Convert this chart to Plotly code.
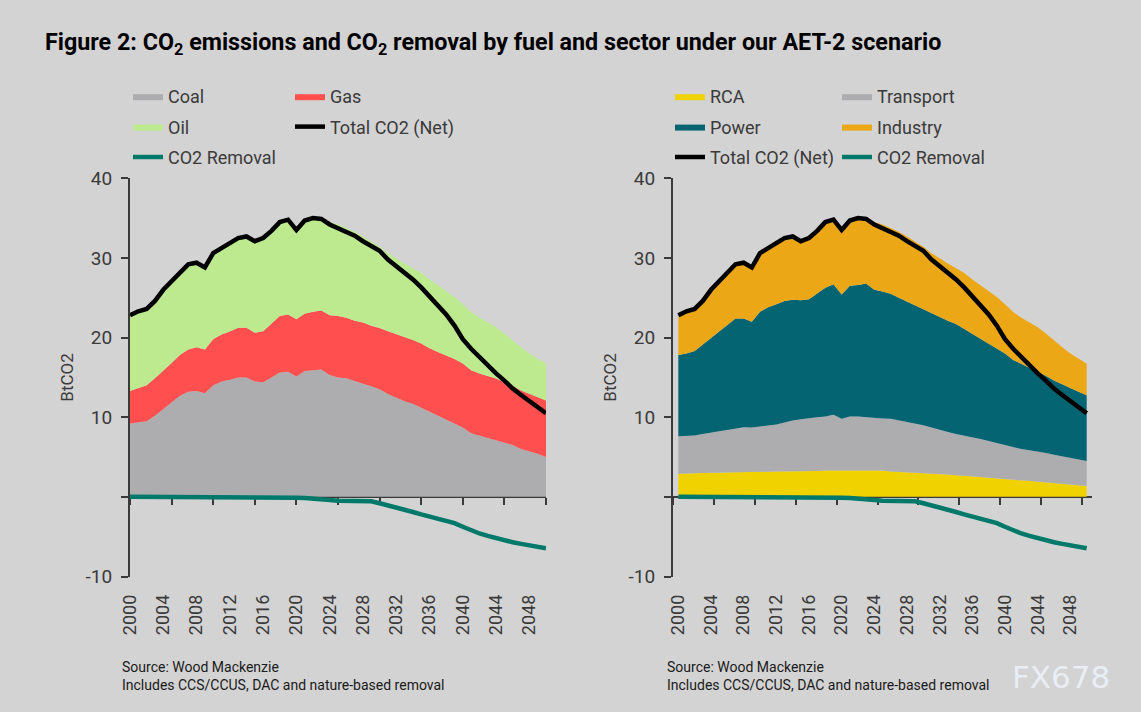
import plotly.graph_objects as go

# 年份 2000-2050
years = list(range(2000, 2051))

# 左图：按燃料 (BtCO2)
coal = [9.2, 9.35, 9.5, 10.2, 11.0, 11.8, 12.7, 13.2, 13.3, 13.0,
        14.0, 14.5, 14.7, 15.0, 15.0, 14.5, 14.4, 15.0, 15.6, 15.7,
        15.1, 15.8, 15.9, 16.0, 15.3, 15.0, 14.9, 14.5, 14.2, 13.9,
        13.5, 12.9, 12.4, 12.0, 11.7, 11.2, 10.75, 10.2, 9.7, 9.2,
        8.7, 8.0, 7.7, 7.4, 7.1, 6.8, 6.5, 6.0, 5.7, 5.4, 5.0]
gas = [4.1, 4.35, 4.5, 4.7, 4.8, 5.0, 5.1, 5.3, 5.5, 5.5,
       5.8, 5.9, 6.05, 6.25, 6.25, 6.1, 6.4, 6.8, 7.1, 7.2,
       7.2, 7.2, 7.35, 7.4, 7.5, 7.7, 7.6, 7.6, 7.7, 7.6,
       7.7, 7.9, 8.05, 8.1, 8.0, 8.05, 7.9, 8.0, 8.1, 8.1,
       8.05, 7.9, 7.8, 7.8, 7.75, 7.6, 7.45, 7.35, 7.2, 7.1, 7.1]
oil = [9.5, 9.6, 9.6, 9.7, 10.2, 10.3, 10.3, 10.7, 10.6, 10.3,
       10.8, 10.85, 11.25, 11.25, 11.45, 11.5, 11.7, 11.6, 11.8, 11.9,
       11.3, 11.8, 11.85, 11.7, 11.7, 11.5, 11.3, 11.2, 10.8, 10.6,
       10.2, 9.8, 9.45, 9.2, 9.0, 8.85, 8.65, 8.4, 8.1, 7.8,
       7.45, 7.3, 7.0, 6.7, 6.45, 6.1, 5.65, 5.45, 5.1, 4.9, 4.6]

# 右图：按部门 (BtCO2)
rca = [2.9, 2.9, 2.95, 3.0, 3.0, 3.05, 3.05, 3.1, 3.1, 3.1,
       3.15, 3.15, 3.2, 3.2, 3.2, 3.2, 3.2, 3.25, 3.3, 3.3,
       3.3, 3.35, 3.35, 3.35, 3.3, 3.3, 3.2, 3.15, 3.1, 3.05,
       3.0, 2.95, 2.9, 2.8, 2.7, 2.65, 2.6, 2.5, 2.4, 2.3,
       2.2, 2.15, 2.1, 2.0, 1.9, 1.85, 1.75, 1.65, 1.55, 1.45, 1.35]
transport = [4.7, 4.75, 4.75, 4.9, 5.1, 5.2, 5.35, 5.5, 5.65, 5.6,
             5.65, 5.8, 5.9, 6.15, 6.4, 6.55, 6.7, 6.75, 6.8, 7.0,
             6.5, 6.75, 6.75, 6.65, 6.6, 6.55, 6.6, 6.45, 6.3, 6.15,
             6.0, 5.75, 5.5, 5.35, 5.2, 5.05, 4.9, 4.75, 4.6, 4.45,
             4.3, 4.1, 3.9, 3.85, 3.8, 3.65, 3.55, 3.45, 3.35, 3.25, 3.15]
power = [10.2, 10.35, 10.6, 11.2, 11.9, 12.55, 13.1, 13.8, 13.65, 13.3,
         14.45, 14.85, 15.1, 15.25, 15.15, 14.95, 14.9, 15.5, 16.15, 16.4,
         15.6, 16.4, 16.5, 16.8, 16.1, 15.95, 15.7, 15.4, 15.1, 14.8,
         14.6, 14.3, 14.2, 13.95, 13.8, 13.4, 13.0, 12.65, 12.3, 11.95,
         11.5, 10.95, 10.7, 10.4, 10.1, 9.7, 9.3, 9.0, 8.7, 8.5, 8.25]
industry = [5.0, 5.3, 5.3, 5.5, 6.0, 6.3, 6.6, 6.8, 7.0, 6.8,
            7.35, 7.45, 7.8, 7.9, 7.95, 7.4, 7.7, 7.9, 8.25, 8.1,
            8.2, 8.3, 8.5, 8.3, 8.5, 8.4, 8.3, 8.3, 8.2, 8.1,
            7.8, 7.6, 7.3, 7.2, 7.0, 7.0, 6.8, 6.7, 6.6, 6.4,
            6.2, 6.0, 5.8, 5.65, 5.5, 5.3, 5.0, 4.7, 4.4, 4.2, 3.95]

# 两图共用：净排放与碳移除
total_net = [22.8, 23.3, 23.6, 24.6, 26.0, 27.1, 28.1, 29.2, 29.4, 28.8,
             30.6, 31.25, 32.0, 32.5, 32.7, 32.1, 32.5, 33.4, 34.5, 34.8,
             33.5, 34.7, 35.0, 34.9, 34.2, 33.75, 33.25, 32.8, 32.1, 31.5,
             30.9, 29.8, 29.0, 28.2, 27.3, 26.3, 25.2, 24.2, 22.9, 21.5,
             19.8, 18.6, 17.5, 16.4, 15.5, 14.6, 13.6, 12.8, 12.0, 11.2, 10.5]
co2_removal = [0.0] * 20 + [
    -0.1, -0.15, -0.2, -0.3, -0.4, -0.5, -0.5, -0.5, -0.5, -0.55,
    -0.8, -1.05, -1.3, -1.6, -1.9, -2.2, -2.5, -2.8, -3.0, -3.3,
    -3.75, -4.2, -4.6, -4.9, -5.2, -5.5, -5.7, -5.9, -6.1, -6.3, -6.45]

year_ticks = list(range(2000, 2049, 4))
y_ticks = [-10, 0, 10, 20, 30, 40]
y_ticktext = ["-10", "", "10", "20", "30", "40"]

BG = "#D3D3D3"
AXIS = "#3A3A3A"
TXT = "#3A3A3A"
FONT = "Roboto"

fig = go.Figure()

# ---- 左图 ----
left_areas = [
    ("Coal", coal, "#ADADB0", "legend", 1),
    ("Gas", gas, "#FF4F4F", "legend2", 2),
    ("Oil", oil, "#BEEA8F", "legend", 3),
]
for name, vals, col, lg, rank in left_areas:
    fig.add_trace(go.Scatter(
        x=years, y=vals, name=name, mode="lines", stackgroup="left",
        line=dict(width=0, color=col), fillcolor=col,
        legend=lg, legendgroup=name + "_l", legendrank=rank,
        xaxis="x", yaxis="y"))
fig.add_trace(go.Scatter(
    x=years, y=total_net, name="Total CO2 (Net)", mode="lines",
    line=dict(color="black", width=4.5), legend="legend2",
    legendgroup="net_l", legendrank=4, xaxis="x", yaxis="y"))
fig.add_trace(go.Scatter(
    x=years, y=co2_removal, name="CO2 Removal", mode="lines",
    line=dict(color="#00796B", width=4.5), legend="legend",
    legendgroup="rem_l", legendrank=5, xaxis="x3", yaxis="y"))

# ---- 右图 ----
right_areas = [
    ("RCA", rca, "#F0D200", "legend3", 1),
    ("Transport", transport, "#ADADB0", "legend4", 2),
    ("Power", power, "#046472", "legend3", 3),
    ("Industry", industry, "#EBA715", "legend4", 4),
]
for name, vals, col, lg, rank in right_areas:
    fig.add_trace(go.Scatter(
        x=years, y=vals, name=name, mode="lines", stackgroup="right",
        line=dict(width=0, color=col), fillcolor=col,
        legend=lg, legendgroup=name + "_r", legendrank=rank,
        xaxis="x2", yaxis="y2"))
fig.add_trace(go.Scatter(
    x=years, y=total_net, name="Total CO2 (Net)", mode="lines",
    line=dict(color="black", width=4.5), legend="legend3",
    legendgroup="net_r", legendrank=5, xaxis="x2", yaxis="y2"))
fig.add_trace(go.Scatter(
    x=years, y=co2_removal, name="CO2 Removal", mode="lines",
    line=dict(color="#00796B", width=4.5), legend="legend4",
    legendgroup="rem_r", legendrank=6, xaxis="x4", yaxis="y2"))

W, H = 1141, 712
y_dom = [(H - 576.5) / H, (H - 178.3) / H]
zero_pos = y_dom[0] + 0.2 * (y_dom[1] - y_dom[0])
left_dom = [130 / W, 546 / W]
right_dom = [673 / W, 1092 / W]
left_range = [2000, 2050]
right_range = [1999.35, 2050.65]

label_x = dict(
    tickvals=year_ticks, tickangle=-90, showline=False, showgrid=False,
    zeroline=False, ticks="outside", ticklen=10, tickcolor="rgba(0,0,0,0)",
    tickfont=dict(size=18, color=TXT, family=FONT), automargin=False)
zero_x = dict(
    anchor="free", position=zero_pos, showticklabels=False, showgrid=False,
    zeroline=False, showline=True, linecolor=AXIS, linewidth=2,
    ticks="outside", ticklen=7, tickwidth=2, tickcolor=AXIS, dtick=5,
    layer="below traces", automargin=False)
y_common = dict(
    domain=y_dom, range=[-10, 40], tickvals=y_ticks, ticktext=y_ticktext,
    ticks="outside", ticklen=7, tickwidth=2, tickcolor=AXIS,
    showline=True, linecolor=AXIS, linewidth=2, showgrid=False,
    zeroline=False, tickfont=dict(size=19, color=TXT, family=FONT),
    ticklabelstandoff=5, automargin=False,
    title=dict(text="BtCO2", font=dict(size=17, color=TXT, family=FONT),
               standoff=8))

legend_common = dict(
    bgcolor="rgba(0,0,0,0)", font=dict(size=18, color=TXT, family=FONT),
    traceorder="grouped", tracegroupgap=4, xanchor="left", yanchor="top",
    xref="paper", yref="paper", itemclick=False)

source_text = "Source: Wood Mackenzie<br>Includes CCS/CCUS, DAC and nature-based removal"

fig.update_layout(
    width=W, height=H,
    paper_bgcolor=BG, plot_bgcolor=BG,
    margin=dict(l=0, r=0, t=0, b=0),
    showlegend=True,
    title=dict(
        text="<b>Figure 2: CO<sub>2</sub> emissions and CO<sub>2</sub> removal "
             "by fuel and sector under our AET-2 scenario</b>",
        x=45 / W, xanchor="left", xref="container",
        y=1 - 42 / H, yanchor="middle", yref="container",
        font=dict(size=23.3, color="black", family=FONT)),
    xaxis=dict(domain=left_dom, range=left_range, anchor="y", **label_x),
    xaxis2=dict(domain=right_dom, range=right_range, anchor="y2", **label_x),
    xaxis3=dict(overlaying="x", range=left_range, tick0=2000, **zero_x),
    xaxis4=dict(overlaying="x2", range=right_range, tick0=1999.4, **zero_x),
    yaxis=dict(anchor="x", **y_common),
    yaxis2=dict(anchor="x2", **y_common),
    legend=dict(x=128 / W, y=1 - 78 / H, **legend_common),
    legend2=dict(x=290 / W, y=1 - 78 / H, **legend_common),
    legend3=dict(x=670 / W, y=1 - 78 / H, **legend_common),
    legend4=dict(x=837 / W, y=1 - 78 / H, **legend_common),
    annotations=[
        dict(text=source_text,
             x=120 / W, y=1 - 657 / H, xref="paper", yref="paper",
             xanchor="left", yanchor="top", align="left", showarrow=False,
             font=dict(size=14, color="#1A1A1A", family=FONT)),
        dict(text=source_text,
             x=665 / W, y=1 - 657 / H, xref="paper", yref="paper",
             xanchor="left", yanchor="top", align="left", showarrow=False,
             font=dict(size=14, color="#1A1A1A", family=FONT)),
        dict(text="FX678", x=1061 / W, y=1 - 677 / H, xref="paper", yref="paper",
             xanchor="center", yanchor="middle", showarrow=False,
             font=dict(size=31, color="#E9EEF4", family="DejaVu Sans")),
    ],
)

fig.write_html(
    "out.html",
    config={"displayModeBar": False},
    post_script="document.body.style.margin='0';document.body.style.overflow='hidden';")
